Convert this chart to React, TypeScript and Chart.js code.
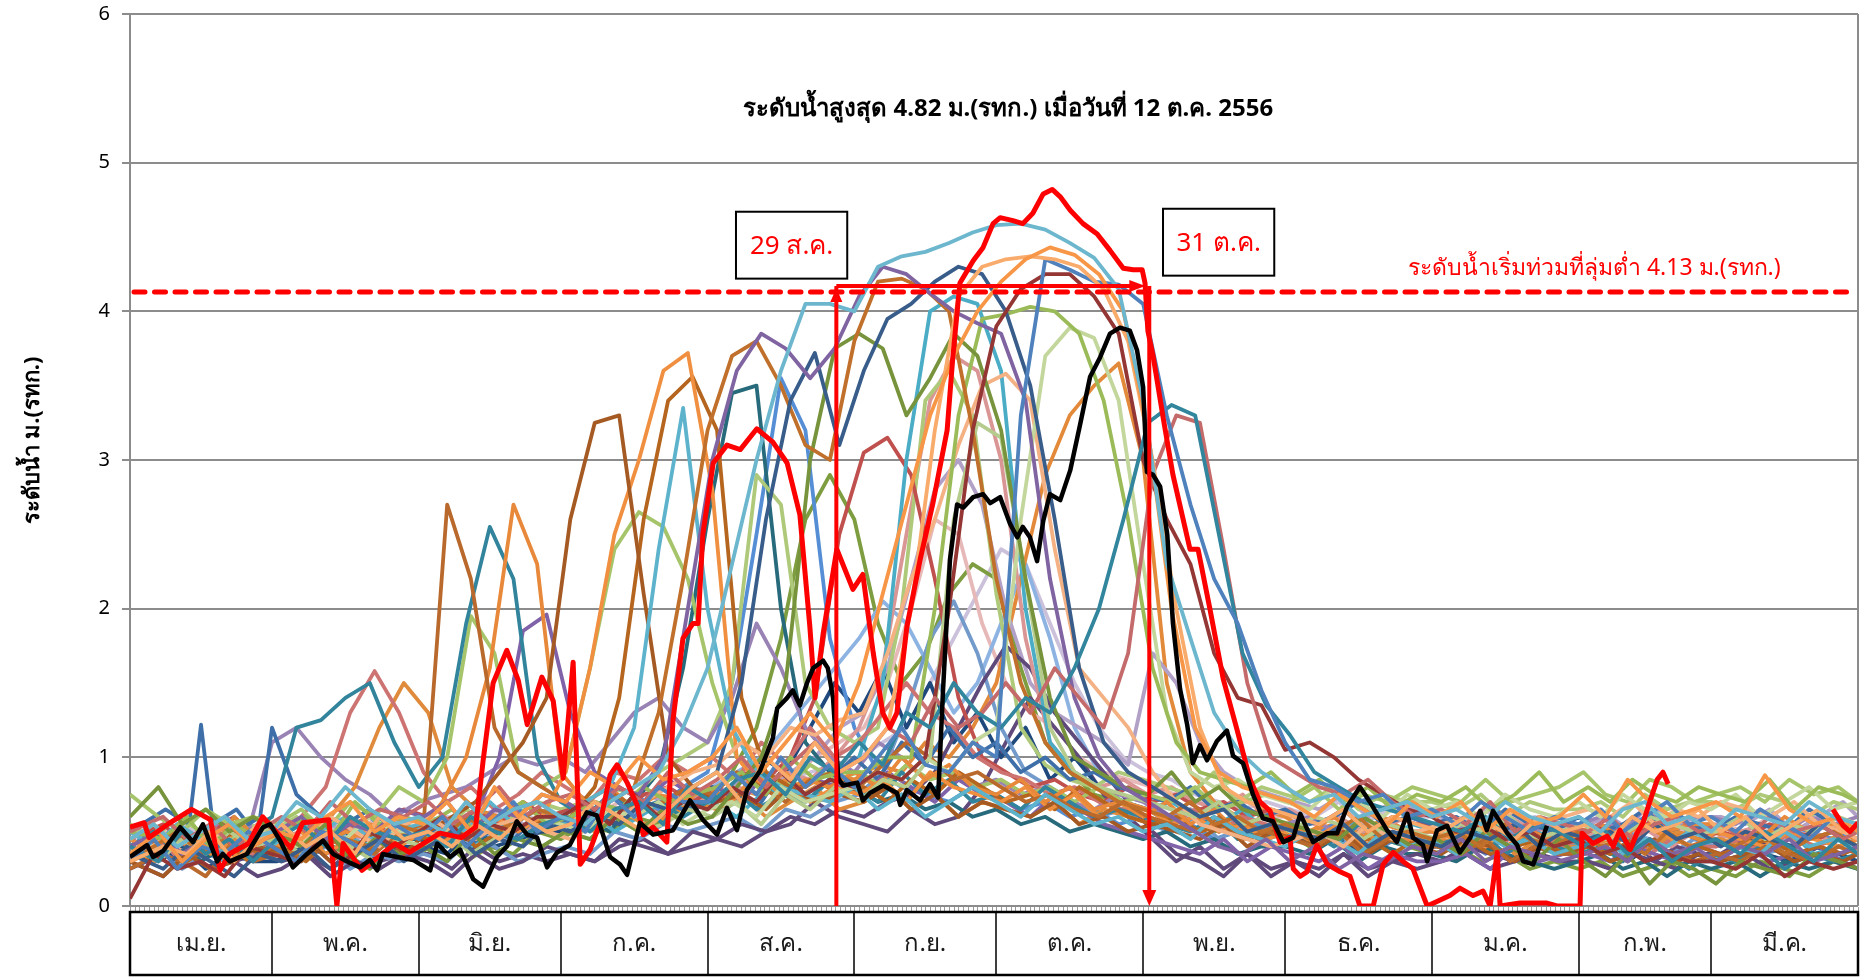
import React, { useEffect, useRef } from 'react';
import { Chart, registerables } from 'chart.js';

Chart.register(...registerables);

const FONT = "Tahoma, 'Noto Sans', 'DejaVu Sans', sans-serif";

// ---------- axis / category data ----------
const monthLabels = ['เม.ย.', 'พ.ค.', 'มิ.ย.', 'ก.ค.', 'ส.ค.', 'ก.ย.', 'ต.ค.', 'พ.ย.', 'ธ.ค.', 'ม.ค.', 'ก.พ.', 'มี.ค.'];
const monthStartDays = [0, 30, 61, 91, 122, 153, 183, 214, 244, 275, 306, 334, 365];
const yTicks = [0, 1, 2, 3, 4, 5, 6];

// ---------- annotation data ----------
const floodLevel = 4.13;
const titleText = 'ระดับน้ำสูงสุด 4.82 ม.(รทก.) เมื่อวันที่ 12 ต.ค. 2556';
const titlePos = [185.5, 5.36];
const floodText = 'ระดับน้ำเริ่มท่วมที่ลุ่มต่ำ 4.13 ม.(รทก.)';
const floodTextPos = [309.3, 4.29];
const yTitle = 'ระดับน้ำ ม.(รทก.)';
const startMarkerDay = 149.2;
const endMarkerDay = 215.3;
const markerLevel = 4.17;
const startLabel = '29 ส.ค.';
const startBox = [128, 151.5, 4.67, 4.22];
const endLabel = '31 ต.ค.';
const endBox = [218.2, 241.7, 4.69, 4.24];

// ---------- 2556 (red) : [day since 1 Apr, level] ----------
const red2556 = [
  [0, 0.53], [3, 0.56], [4, 0.46], [8, 0.55], [13, 0.65], [17, 0.58], [19, 0.24], [21, 0.35], [25, 0.42], [28, 0.6],
  [34, 0.39], [36.5, 0.56], [42, 0.58], [43.7, 0], [45, 0.42], [49, 0.24], [56, 0.42], [59, 0.36], [65.5, 0.49], [70, 0.46],
  [73, 0.53], [74.6, 0.98], [76.7, 1.5], [79.6, 1.72], [82, 1.52], [83.9, 1.22], [87, 1.54], [89.4, 1.38], [91.5, 0.86], [93.6, 1.64],
  [95.1, 0.28], [97.2, 0.38], [99.3, 0.56], [101.4, 0.88], [102.9, 0.95], [105, 0.83], [107.1, 0.68], [108.4, 0.48], [110.5, 0.53], [113.4, 0.43],
  [114.7, 1.25], [116.8, 1.8], [118.9, 1.9], [120, 1.9], [121, 2.5], [123.2, 2.98], [126.1, 3.1], [128.9, 3.07], [132.4, 3.21], [135.8, 3.12],
  [138.8, 2.98], [141.5, 2.63], [143.6, 1.88], [144.7, 1.4], [146.4, 1.83], [149.3, 2.4], [152.7, 2.13], [154.8, 2.23], [157, 1.7], [159, 1.3],
  [160.5, 1.2], [162, 1.3], [164.1, 1.88], [166.9, 2.33], [169.6, 2.71], [172.6, 3.2], [173.8, 3.69], [175.3, 4.19], [178.1, 4.34], [180.2, 4.43],
  [182.3, 4.59], [183.8, 4.63], [186.5, 4.61], [188.6, 4.59], [190.7, 4.66], [192.9, 4.79], [194.8, 4.82], [196.5, 4.77], [198.6, 4.68], [201.3, 4.59],
  [204.3, 4.52], [207, 4.41], [209.8, 4.29], [211.9, 4.28], [213.8, 4.28], [214.4, 4.19], [215, 3.87], [216.1, 3.7], [218.2, 3.29], [220.3, 2.9],
  [223.9, 2.4], [225.6, 2.4], [228.1, 2.0], [230.9, 1.53], [233.8, 1.19], [236.6, 0.85], [238.7, 0.7], [240.8, 0.64], [242.9, 0.43], [245, 0.46],
  [245.7, 0.25], [247.2, 0.2], [248.6, 0.23], [250.7, 0.41], [252.9, 0.28], [255.6, 0.23], [257.7, 0.2], [259.8, 0], [262.6, 0], [264.7, 0.28],
  [266.8, 0.36], [268.9, 0.3], [271, 0.25], [274, 0], [278.8, 0.07], [280.9, 0.12], [283.7, 0.07], [285.8, 0.1], [287.3, 0], [288.8, 0.36],
  [289.4, 0], [293.6, 0.02], [299.3, 0.02], [301.4, 0], [306.3, 0], [306.7, 0.49], [309, 0.42], [312, 0.47], [313.3, 0.4], [314.7, 0.51],
  [316.9, 0.38], [318.3, 0.49], [319.6, 0.56], [321.1, 0.71], [322.6, 0.85], [323.8, 0.9], [324.9, 0.82], [342, null], [359.7, 0.65], [361.9, 0.54],
  [363.3, 0.5], [365, 0.56],
];

// ---------- 2557 (black) ----------
const blackDays = [
  0, 3.6, 4.9, 7, 10.6, 13.3, 15.4, 18.4, 19.6, 21.1,
  24.7, 28.1, 29.6, 31.7, 34.4, 37.4, 40.8, 42.9, 46.5, 48.6,
  50.7, 52.2, 53.4, 56.4, 59.8, 63.4, 64.9, 67.6, 69.7, 72.5,
  74.6, 77.5, 79.6, 81.7, 83.9, 86, 88.1, 90.2, 92.9, 96.5,
  98.6, 101.4, 103.5, 105, 107.7, 110.5, 114.7, 118.3, 121, 124,
  126.1, 128.2, 130.3, 133.1, 135.8, 136.7, 138.8, 140, 141.5, 143,
  144.3, 146.4, 147.4, 148.5, 149.6, 150.6, 153.6, 154.8, 156.3, 159.1,
  162, 162.7, 164.1, 166.9, 169, 170.7, 171.7, 173.2, 174.7, 176,
  178.1, 180.2, 181.7, 183.8, 185.9, 187.4, 188.6, 190.1, 191.6, 192.9,
  194.3, 196.5, 198.6, 200.7, 202.8, 204.9, 207, 209.1, 211.2, 212.7,
  214, 214.8, 216.1, 217.6, 219.1, 220.3, 221.8, 223.3, 224.5, 226,
  227.5, 229.6, 231.7, 233, 235.1, 237.2, 239.3, 241.4, 243.6, 245.7,
  247.2, 249.9, 252.9, 255, 257.1, 259.8, 261.9, 265.5, 267.6, 269.8,
  271, 273.1, 274, 276.1, 278.2, 280.9, 283.1, 285.2, 286.6, 287.9,
  290.9, 293, 294.3, 296.4, 299.3,
];
const blackVals = [
  0.33, 0.41, 0.33, 0.37, 0.53, 0.43, 0.55, 0.30, 0.35, 0.30,
  0.35, 0.53, 0.55, 0.44, 0.26, 0.35, 0.44, 0.35, 0.29, 0.26,
  0.31, 0.24, 0.35, 0.33, 0.31, 0.24, 0.42, 0.33, 0.38, 0.18,
  0.13, 0.33, 0.40, 0.57, 0.48, 0.46, 0.26, 0.36, 0.41, 0.63,
  0.61, 0.33, 0.28, 0.21, 0.56, 0.48, 0.51, 0.71, 0.58, 0.48,
  0.66, 0.51, 0.78, 0.91, 1.13, 1.33, 1.40, 1.45, 1.35, 1.50,
  1.60, 1.65, 1.60, 1.40, 0.86, 0.81, 0.83, 0.71, 0.76, 0.81,
  0.76, 0.68, 0.78, 0.71, 0.82, 0.73, 1.43, 2.33, 2.70, 2.68,
  2.75, 2.77, 2.71, 2.75, 2.57, 2.48, 2.55, 2.48, 2.32, 2.59,
  2.77, 2.73, 2.93, 3.24, 3.56, 3.69, 3.85, 3.89, 3.87, 3.74,
  3.49, 2.92, 2.90, 2.82, 2.50, 1.90, 1.46, 1.22, 0.96, 1.08,
  0.98, 1.11, 1.18, 1.01, 0.96, 0.75, 0.59, 0.57, 0.43, 0.46,
  0.62, 0.43, 0.49, 0.49, 0.67, 0.80, 0.70, 0.51, 0.43, 0.62,
  0.46, 0.41, 0.30, 0.51, 0.54, 0.36, 0.46, 0.64, 0.51, 0.64,
  0.49, 0.41, 0.30, 0.28, 0.54,
];

// ---------- earlier years: readings grouped by month (Apr .. Mar) ----------
const hist01 = [[0.45,0.55,0.4,0.5,0.6,0.45],[0.5,0.7,0.6,0.8,0.65,0.55],[0.6,0.5,0.7,0.55,0.65,0.7],[0.6,0.55,0.7,0.8,0.9,1.2],[1.6,2.3,3.0,3.6,4.05,4.05],[4.0,4.3,4.37,4.4,4.46,4.53],[4.58,4.59,4.55,4.46,4.36,4.15],[3.4,2.3,1.8,1.3,1.05,0.9],[0.8,0.7,0.75,0.6,0.65,0.7],[0.6,0.65,0.55,0.7,0.6,0.55],[0.6,0.5,0.65,0.7,0.55,0.6],[0.5,0.65,0.6,0.55,0.7,0.6,0.55]];
const hist02 = [[0.35,0.5,0.3,0.45,0.55,0.4],[0.5,0.45,0.6,0.7,0.5,0.6],[0.55,0.7,0.5,0.8,0.6,0.75],[0.7,0.9,0.8,1.0,0.85,0.9],[1.0,1.2,0.9,1.1,1.3,1.1],[1.5,2.1,2.7,3.3,3.7,4.0],[4.2,4.35,4.43,4.38,4.25,4.0],[3.2,2.0,1.2,0.9,0.8,0.75],[0.7,0.6,0.75,0.65,0.55,0.7],[0.6,0.7,0.5,0.65,0.55,0.6],[0.75,0.6,0.85,0.7,0.6,0.65],[0.7,0.6,0.88,0.65,0.55,0.6,0.5]];
const hist03 = [[0.3,0.4,0.35,0.5,0.3,0.45],[0.55,0.4,0.5,0.35,0.6,0.45],[0.5,0.4,0.55,0.45,0.6,0.5],[0.55,0.7,0.6,0.5,0.65,0.8],[0.9,0.7,1.0,0.85,1.1,0.9],[1.0,1.2,2.0,3.2,4.1,4.3],[4.35,4.37,4.35,4.3,4.15,3.8],[3.0,2.0,1.2,0.8,0.7,0.65],[0.6,0.55,0.65,0.5,0.6,0.55],[0.5,0.6,0.55,0.45,0.6,0.5],[0.55,0.45,0.6,0.5,0.55,0.65],[0.5,0.6,0.45,0.55,0.65,0.5,0.55]];
const hist04 = [[0.3,0.45,0.25,0.4,0.35,0.5],[0.4,0.3,0.5,0.45,0.35,0.55],[0.45,0.6,0.4,0.55,0.7,0.5],[0.6,0.5,0.75,0.6,0.8,0.7],[0.7,0.9,0.75,1.0,0.8,0.95],[0.8,1.0,1.2,0.95,0.9,1.1],[1.0,3.3,4.35,4.28,4.2,4.18],[4.05,3.3,2.7,2.2,1.9,1.45],[1.1,0.85,0.8,0.7,0.75,0.6],[0.65,0.55,0.7,0.6,0.5,0.6],[0.55,0.65,0.5,0.6,0.7,0.55],[0.6,0.5,0.65,0.55,0.45,0.6,0.5]];
const hist05 = [[0.4,0.3,0.5,0.35,0.45,0.3],[0.45,0.55,0.4,0.6,0.5,0.45],[0.5,0.4,0.6,0.5,0.45,0.55],[0.6,0.5,0.65,0.7,0.55,0.8],[0.7,0.85,0.9,0.75,1.0,0.9],[1.1,0.95,1.3,1.2,1.5,1.3],[1.2,1.4,1.3,1.6,2.0,2.6],[3.25,3.37,3.3,2.5,1.7,1.35],[1.15,0.9,0.8,0.7,0.65,0.6],[0.55,0.5,0.6,0.45,0.55,0.5],[0.4,0.5,0.35,0.45,0.3,0.4],[0.45,0.35,0.5,0.4,0.3,0.45,0.35]];
const hist06 = [[0.5,0.6,0.45,0.55,0.4,0.5],[0.6,0.5,0.7,0.55,0.65,0.6],[0.7,0.55,0.65,0.8,0.6,0.7],[0.75,0.65,0.8,0.7,0.9,0.75],[0.85,1.0,0.8,0.95,1.1,0.9],[1.0,1.2,1.1,1.4,1.2,1.3],[1.5,1.3,1.6,1.4,1.2,1.7],[2.9,3.3,3.25,2.4,1.5,1.0],[0.9,0.8,0.75,0.85,0.7,0.6],[0.65,0.55,0.7,0.5,0.6,0.55],[0.5,0.6,0.45,0.55,0.6,0.5],[0.55,0.45,0.6,0.5,0.55,0.45,0.5]];
const hist07 = [[0.05,0.35,0.25,0.3,0.2,0.4],[0.35,0.3,0.45,0.3,0.5,0.4],[0.5,0.6,0.45,0.55,0.5,0.6],[0.6,0.7,0.55,0.75,0.6,0.7],[0.65,0.8,0.7,0.9,0.75,0.85],[0.8,0.9,0.85,1.0,2.0,3.2],[3.9,4.15,4.25,4.25,4.1,3.85],[3.0,2.6,2.3,1.7,1.4,1.35],[1.05,1.1,1.0,0.85,0.75,0.65],[0.6,0.5,0.55,0.45,0.5,0.4],[0.45,0.35,0.4,0.3,0.35,0.3],[0.3,0.25,0.35,0.2,0.3,0.25,0.3]];
const hist08 = [[0.4,0.5,0.35,0.45,0.55,0.4],[0.5,0.6,0.45,0.55,0.5,0.65],[0.6,0.7,0.5,0.65,0.6,0.75],[0.7,0.6,0.8,0.75,1.0,2.0],[3.0,3.6,3.85,3.75,3.55,3.75],[4.1,4.3,4.25,4.12,4.0,3.92],[3.85,3.4,2.2,1.4,1.0,0.8],[0.7,0.6,0.5,0.4,0.35,0.45],[0.3,0.4,0.25,0.35,0.3,0.4],[0.35,0.45,0.3,0.4,0.35,0.3],[0.35,0.4,0.3,0.45,0.35,0.4],[0.3,0.4,0.35,0.45,0.3,0.35,0.4]];
const hist09 = [[0.35,0.25,0.4,0.3,0.2,0.35],[0.3,0.4,0.25,0.35,0.45,0.3],[0.4,0.5,0.35,0.45,0.4,0.55],[0.5,0.6,0.55,0.7,0.65,0.8],[0.9,1.5,2.6,3.4,3.72,3.1],[3.6,3.95,4.05,4.2,4.3,4.25],[4.0,3.5,2.6,1.6,1.1,0.9],[0.8,0.7,0.6,0.65,0.5,0.55],[0.5,0.45,0.55,0.4,0.5,0.45],[0.4,0.5,0.45,0.55,0.4,0.5],[0.45,0.5,0.4,0.55,0.45,0.5],[0.4,0.5,0.45,0.4,0.55,0.45,0.4]];
const hist10 = [[0.3,0.4,0.5,0.35,0.45,0.3],[0.4,0.35,0.5,0.45,0.4,0.55],[0.5,0.45,0.6,0.5,0.55,0.65],[0.6,0.55,0.7,0.8,1.3,2.2],[3.2,3.7,3.8,3.5,3.1,3.0],[3.8,4.2,4.22,4.15,4.0,3.2],[2.2,1.5,1.1,0.9,0.8,0.7],[0.65,0.6,0.7,0.55,0.6,0.5],[0.55,0.45,0.5,0.6,0.45,0.5],[0.45,0.5,0.4,0.55,0.45,0.4],[0.5,0.4,0.45,0.35,0.5,0.4],[0.45,0.4,0.5,0.35,0.45,0.5,0.4]];
const hist11 = [[0.6,0.8,0.55,0.65,0.5,0.6],[0.5,0.4,0.55,0.3,0.45,0.35],[0.4,0.3,0.5,0.35,0.45,0.4],[0.5,0.45,0.6,0.5,0.65,0.55],[0.6,0.8,1.0,1.5,3.0,3.75],[3.85,3.75,3.3,3.55,3.85,3.7],[3.2,2.2,1.4,1.0,0.9,0.8],[0.75,0.9,0.7,0.8,0.65,0.6],[0.55,0.5,0.45,0.6,0.5,0.4],[0.45,0.35,0.5,0.4,0.3,0.45],[0.3,0.2,0.35,0.15,0.3,0.25],[0.15,0.3,0.25,0.2,0.35,0.3,0.25]];
const hist12 = [[0.5,0.45,0.6,0.4,0.55,0.45],[0.5,0.6,0.45,0.7,0.55,0.6],[0.55,0.65,0.5,0.6,0.7,0.55],[0.6,0.7,0.65,0.8,0.7,0.75],[0.8,0.9,0.75,1.0,0.85,0.9],[0.9,1.0,1.0,2.0,3.3,3.95],[3.98,4.03,4.0,3.85,3.4,2.6],[1.6,1.1,0.9,0.85,0.8,0.9],[0.75,0.85,0.7,0.8,0.65,0.75],[0.7,0.8,0.65,0.75,0.9,0.7],[0.8,0.7,0.85,0.75,0.7,0.8],[0.75,0.7,0.85,0.65,0.8,0.75,0.7]];
const hist13 = [[0.45,0.55,0.4,0.5,0.6,0.45],[0.55,0.4,0.5,0.45,0.6,0.5],[0.5,0.6,0.45,0.55,0.5,0.6],[0.55,0.5,0.65,0.6,0.7,0.55],[0.65,0.7,0.6,0.8,0.7,0.75],[0.8,0.9,0.85,1.0,0.9,1.1],[1.2,2.6,3.7,3.89,3.82,3.4],[2.3,1.3,0.9,0.8,0.85,0.75],[0.7,0.65,0.8,0.7,0.6,0.75],[0.65,0.7,0.6,0.75,0.65,0.6],[0.7,0.6,0.75,0.65,0.6,0.7],[0.65,0.75,0.6,0.7,0.8,0.65,0.7]];
const hist14 = [[0.4,0.3,0.45,0.35,0.5,0.4],[0.45,0.35,0.5,0.4,0.3,0.45],[0.4,0.5,0.35,0.45,0.55,0.4],[0.5,0.45,0.6,0.5,0.55,0.65],[0.6,0.7,0.55,0.75,0.65,0.8],[0.7,0.85,0.8,1.0,2.6,3.25],[3.15,2.2,1.2,0.9,0.8,0.75],[0.7,0.65,0.6,0.7,0.55,0.6],[0.5,0.6,0.55,0.45,0.55,0.5],[0.45,0.55,0.5,0.6,0.45,0.5],[0.55,0.45,0.5,0.6,0.55,0.5],[0.5,0.6,0.45,0.55,0.5,0.6,0.55]];
const hist15 = [[0.3,0.45,0.35,0.5,0.4,0.55],[0.5,0.45,0.6,0.5,0.4,0.55],[0.6,0.5,0.45,0.55,0.6,0.5],[0.45,0.55,0.6,0.7,0.8,0.9],[0.95,1.1,1.0,1.2,1.15,1.25],[1.3,1.7,2.2,2.6,3.1,3.5],[3.58,3.4,2.4,1.6,1.4,1.2],[0.9,0.7,0.55,0.5,0.45,0.4],[0.45,0.5,0.4,0.55,0.45,0.5],[0.55,0.6,0.5,0.65,0.55,0.6],[0.65,0.6,0.7,0.55,0.65,0.6],[0.7,0.65,0.6,0.7,0.55,0.5,0.45]];
const hist16 = [[0.5,0.4,0.55,0.45,0.35,0.5],[0.4,0.55,0.5,0.6,0.45,0.5],[0.55,0.6,0.5,0.7,0.55,0.65],[0.6,0.7,0.8,1.2,2.4,3.35],[2.0,1.2,0.9,0.8,0.75,0.7],[0.8,0.65,0.75,0.6,0.7,0.8],[0.7,0.6,0.75,0.65,0.55,0.6],[0.5,0.55,0.45,0.6,0.5,0.45],[0.4,0.5,0.45,0.35,0.5,0.4],[0.45,0.35,0.5,0.4,0.45,0.35],[0.4,0.5,0.35,0.45,0.4,0.5],[0.45,0.4,0.35,0.5,0.4,0.45,0.4]];
const hist17 = [[0.25,0.35,0.3,0.2,0.4,0.3],[0.35,0.3,0.45,0.4,0.35,0.5],[0.55,2.7,2.2,1.2,0.9,0.8],[0.7,0.6,0.75,0.65,0.7,0.8],[0.75,0.9,0.8,0.7,0.85,0.9],[0.8,0.95,1.1,1.0,0.85,0.9],[0.8,0.7,0.75,0.65,0.6,0.7],[0.6,0.55,0.5,0.6,0.45,0.5],[0.45,0.4,0.5,0.35,0.45,0.4],[0.4,0.35,0.45,0.3,0.4,0.35],[0.35,0.4,0.3,0.45,0.35,0.3],[0.35,0.3,0.4,0.35,0.3,0.4,0.35]];
const hist18 = [[0.3,0.2,0.35,0.25,0.3,0.4],[0.35,0.45,0.3,0.4,0.5,0.35],[0.5,0.6,0.7,0.9,1.1,1.4],[2.6,3.25,3.3,2.1,1.0,0.8],[0.7,0.75,0.65,0.8,0.7,0.75],[0.7,0.8,0.65,0.75,0.6,0.7],[0.65,0.6,0.7,0.55,0.6,0.5],[0.55,0.5,0.45,0.55,0.4,0.5],[0.45,0.4,0.5,0.35,0.45,0.4],[0.35,0.45,0.4,0.3,0.4,0.35],[0.4,0.3,0.35,0.45,0.3,0.35],[0.3,0.35,0.4,0.3,0.35,0.3,0.35]];
const hist19 = [[0.4,0.3,0.45,0.35,0.4,0.5],[0.45,0.55,0.4,0.5,0.45,0.6],[0.5,0.7,1.0,1.6,2.7,2.3],[0.9,0.7,0.8,0.65,0.75,0.7],[0.8,0.7,0.9,0.75,0.85,0.8],[0.9,0.8,1.0,0.85,0.95,0.8],[0.75,0.85,0.7,0.8,0.65,0.7],[0.6,0.7,0.55,0.65,0.5,0.6],[0.55,0.5,0.6,0.45,0.55,0.5],[0.5,0.45,0.55,0.4,0.5,0.45],[0.5,0.55,0.45,0.6,0.5,0.55],[0.55,0.5,0.45,0.6,0.5,0.55,0.5]];
const hist20 = [[0.45,0.35,0.5,0.4,0.3,0.45],[0.4,0.5,0.35,0.45,0.55,0.4],[0.5,0.45,0.55,0.6,0.5,0.6],[0.9,1.6,2.5,3.0,3.6,3.72],[2.8,1.0,0.8,0.9,0.7,0.8],[0.75,0.85,0.7,0.9,0.8,0.75],[0.7,0.8,0.65,0.75,0.6,0.7],[0.65,0.55,0.6,0.5,0.55,0.45],[0.5,0.45,0.55,0.4,0.5,0.45],[0.45,0.5,0.4,0.55,0.45,0.5],[0.45,0.4,0.5,0.55,0.45,0.4],[0.5,0.45,0.4,0.5,0.45,0.4,0.45]];
const hist21 = [[0.35,0.45,0.3,0.4,0.5,0.35],[0.4,0.3,0.45,0.35,0.4,0.5],[0.45,0.55,0.4,0.5,0.6,0.55],[0.6,0.8,1.4,2.6,3.4,3.56],[3.2,1.4,0.9,0.8,0.85,0.75],[0.8,0.7,0.85,0.75,0.9,0.8],[0.7,0.75,0.65,0.8,0.7,0.6],[0.55,0.6,0.5,0.55,0.45,0.5],[0.45,0.5,0.4,0.45,0.35,0.45],[0.4,0.45,0.35,0.4,0.45,0.35],[0.4,0.35,0.45,0.4,0.35,0.4],[0.35,0.4,0.45,0.35,0.4,0.35,0.4]];
const hist22 = [[0.4,0.5,0.35,0.45,0.4,0.5],[0.6,1.2,1.25,1.4,1.5,1.1],[0.8,1.0,1.9,2.55,2.2,1.0],[0.7,0.6,0.75,0.65,0.7,0.6],[0.7,0.8,0.65,0.75,0.7,0.85],[0.8,0.7,0.9,0.75,0.85,0.7],[0.75,0.65,0.8,0.7,0.6,0.65],[0.6,0.55,0.5,0.6,0.45,0.5],[0.45,0.5,0.4,0.55,0.45,0.4],[0.4,0.45,0.5,0.35,0.45,0.4],[0.35,0.4,0.3,0.45,0.35,0.25],[0.35,0.3,0.4,0.25,0.35,0.3,0.35]];
const hist23 = [[0.75,0.6,0.5,0.65,0.55,0.6],[0.55,0.65,0.5,0.7,0.6,0.8],[0.7,1.0,1.95,1.7,0.9,0.8],[0.9,1.6,2.4,2.65,2.55,2.2],[1.5,1.0,0.9,0.8,0.95,0.85],[0.9,0.8,0.95,0.85,0.9,0.8],[0.85,0.75,0.8,0.7,0.8,0.7],[0.75,0.7,0.8,0.65,0.7,0.75],[0.7,0.8,0.65,0.75,0.7,0.8],[0.75,0.7,0.85,0.7,0.75,0.8],[0.9,0.75,0.7,0.85,0.8,0.7],[0.75,0.8,0.7,0.85,0.75,0.8,0.7]];
const hist24 = [[0.45,0.35,0.5,0.4,0.3,0.45],[0.35,0.45,0.3,0.4,0.5,0.35],[0.4,0.5,0.6,1.0,1.85,1.96],[1.3,0.9,0.8,0.7,0.85,0.75],[0.8,0.7,0.9,0.75,0.85,0.8],[0.75,0.9,0.8,0.7,0.85,0.75],[0.7,0.6,0.75,0.65,0.55,0.5],[0.45,0.4,0.35,0.45,0.3,0.4],[0.35,0.3,0.4,0.25,0.35,0.3],[0.3,0.35,0.25,0.4,0.3,0.35],[0.35,0.3,0.4,0.35,0.3,0.4],[0.35,0.4,0.3,0.35,0.4,0.3,0.35]];
const hist25 = [[0.5,0.55,0.6,0.65,0.6,0.55,1.22,0.55,0.6,0.65,0.55,0.6],[1.2,0.75,0.6,0.55,0.65,0.5],[0.45,0.55,0.4,0.5,0.45,0.6],[0.55,0.5,0.65,0.6,0.7,0.65],[0.7,0.8,0.65,0.9,0.75,0.85],[1.0,0.85,1.1,0.95,1.2,1.0],[1.1,0.9,1.0,0.85,0.9,0.8],[0.75,0.7,0.8,0.65,0.7,0.6],[0.65,0.55,0.6,0.7,0.55,0.6],[0.55,0.6,0.5,0.65,0.55,0.5],[0.6,0.5,0.55,0.65,0.5,0.55],[0.5,0.6,0.55,0.5,0.65,0.55,0.5]];
const hist26 = [[0.35,0.45,0.3,0.5,0.4,0.35],[0.45,0.6,0.8,1.3,1.58,1.3],[0.9,0.7,0.8,0.65,0.75,0.9],[0.8,0.7,0.9,0.85,1.0,0.9],[1.0,0.85,1.1,0.95,1.2,1.0],[1.1,1.3,1.5,1.3,1.2,1.0],[0.9,0.85,0.75,0.8,0.7,0.65],[0.6,0.55,0.65,0.5,0.6,0.55],[0.5,0.45,0.55,0.4,0.5,0.45],[0.45,0.5,0.4,0.45,0.5,0.4],[0.45,0.4,0.5,0.35,0.45,0.4],[0.4,0.45,0.35,0.5,0.4,0.45,0.4]];
const hist27 = [[0.3,0.4,0.5,0.35,0.6,0.45],[0.5,0.45,0.6,0.8,1.2,1.5],[1.3,0.8,0.65,0.6,0.7,0.55],[0.6,0.5,0.65,0.55,0.6,0.7],[0.65,0.75,0.6,0.7,0.8,0.65],[0.7,0.8,0.65,0.75,0.6,0.7],[0.65,0.6,0.7,0.55,0.65,0.6],[0.55,0.6,0.5,0.55,0.45,0.5],[0.5,0.4,0.55,0.45,0.5,0.4],[0.45,0.4,0.5,0.35,0.45,0.4],[0.4,0.45,0.35,0.4,0.5,0.45],[0.45,0.4,0.5,0.45,0.4,0.5,0.45]];
const hist28 = [[0.5,0.4,0.55,0.45,0.6,0.5],[1.1,1.2,1.0,0.85,0.75,0.6],[0.7,0.75,0.8,0.9,1.0,0.95],[1.0,0.9,1.1,1.3,1.4,1.2],[1.1,1.4,1.9,1.6,1.2,1.0],[0.9,1.1,1.0,0.85,0.9,0.8],[0.85,0.75,0.8,0.7,0.65,0.75],[0.7,0.6,0.65,0.55,0.6,0.5],[0.55,0.6,0.5,0.55,0.45,0.5],[0.5,0.55,0.45,0.6,0.5,0.55],[0.55,0.6,0.5,0.65,0.55,0.6],[0.6,0.55,0.65,0.5,0.6,0.55,0.6]];
const hist29 = [[0.35,0.45,0.3,0.4,0.35,0.5],[0.4,0.35,0.5,0.45,0.4,0.55],[0.5,0.45,0.4,0.55,0.5,0.6],[0.55,0.65,0.5,0.6,0.7,0.65],[0.7,0.6,0.75,0.8,0.7,0.9],[1.0,1.5,3.0,4.0,4.1,4.05],[3.6,2.0,1.1,0.9,0.8,0.7],[0.65,0.7,0.6,0.55,0.65,0.5],[0.55,0.45,0.5,0.6,0.45,0.55],[0.5,0.45,0.55,0.4,0.5,0.45],[0.4,0.5,0.45,0.35,0.45,0.4],[0.45,0.35,0.4,0.5,0.35,0.4,0.45]];
const hist30 = [[0.45,0.55,0.4,0.5,0.6,0.45],[0.5,0.6,0.45,0.55,0.5,0.65],[0.6,0.5,0.65,0.55,0.7,0.6],[0.65,0.7,0.6,0.75,0.8,0.7],[0.8,0.9,0.85,1.0,1.4,2.5],[3.05,3.15,2.9,2.2,1.4,1.0],[0.9,0.8,0.85,0.75,0.7,0.8],[0.7,0.75,0.65,0.7,0.6,0.65],[0.6,0.55,0.65,0.5,0.6,0.55],[0.55,0.5,0.6,0.45,0.55,0.5],[0.5,0.55,0.45,0.6,0.5,0.45],[0.5,0.45,0.55,0.5,0.45,0.55,0.5]];
const hist31 = [[0.55,0.45,0.6,0.5,0.4,0.55],[0.5,0.6,0.45,0.55,0.65,0.5],[0.6,0.5,0.65,0.55,0.6,0.7],[0.65,0.7,0.8,0.75,0.9,1.0],[1.1,1.5,2.9,2.7,1.5,1.2],[1.1,1.2,2.0,3.4,3.6,3.3],[2.1,1.2,0.95,0.85,0.8,0.9],[0.85,0.8,0.75,0.9,0.7,0.8],[0.75,0.7,0.8,0.65,0.75,0.7],[0.7,0.65,0.75,0.6,0.7,0.65],[0.65,0.7,0.6,0.75,0.65,0.7],[0.7,0.65,0.75,0.7,0.6,0.7,0.65]];
const hist32 = [[0.4,0.3,0.45,0.35,0.5,0.4],[0.45,0.5,0.4,0.55,0.45,0.5],[0.55,0.45,0.5,0.6,0.5,0.55],[0.6,0.55,0.65,0.7,0.6,0.75],[0.7,0.8,0.75,0.9,0.85,1.0],[1.2,1.6,2.5,3.4,3.7,3.6],[3.0,1.8,1.1,0.9,0.8,0.85],[0.75,0.8,0.7,0.65,0.75,0.6],[0.65,0.55,0.6,0.5,0.55,0.6],[0.5,0.55,0.45,0.6,0.5,0.55],[0.5,0.45,0.55,0.5,0.4,0.5],[0.45,0.5,0.55,0.45,0.5,0.4,0.45]];
const hist33 = [[0.3,0.2,0.35,0.25,0.3,0.2],[0.25,0.35,0.2,0.3,0.25,0.35],[0.3,0.2,0.35,0.25,0.3,0.4],[0.35,0.3,0.45,0.4,0.35,0.5],[0.45,0.55,0.5,0.6,0.55,0.65],[0.6,0.7,0.75,0.9,1.2,1.5],[1.75,1.6,1.3,1.1,0.9,0.7],[0.5,0.35,0.3,0.2,0.35,0.25],[0.3,0.2,0.35,0.25,0.3,0.35],[0.3,0.4,0.35,0.3,0.4,0.35],[0.4,0.35,0.45,0.3,0.4,0.35],[0.35,0.45,0.4,0.3,0.4,0.35,0.4]];
const hist34 = [[0.4,0.35,0.45,0.3,0.4,0.35],[0.35,0.45,0.4,0.5,0.35,0.45],[0.45,0.4,0.5,0.45,0.55,0.5],[0.55,0.6,0.5,0.7,0.9,1.6],[2.6,3.45,3.5,2.0,1.1,0.9],[0.8,0.7,0.75,0.65,0.7,0.6],[0.65,0.55,0.6,0.5,0.55,0.5],[0.45,0.5,0.4,0.45,0.35,0.4],[0.4,0.35,0.45,0.3,0.4,0.35],[0.35,0.3,0.4,0.35,0.3,0.25],[0.3,0.35,0.25,0.3,0.2,0.3],[0.25,0.3,0.2,0.3,0.25,0.3,0.25]];
const hist35 = [[0.3,0.4,0.25,0.35,0.3,0.45],[0.35,0.3,0.4,0.25,0.35,0.3],[0.35,0.3,0.45,0.4,0.3,0.35],[0.4,0.35,0.5,0.45,0.55,0.5],[0.55,0.6,0.5,0.65,0.6,0.7],[0.75,0.9,1.3,1.8,2.05,1.7],[1.2,0.9,0.8,0.7,0.6,0.65],[0.55,0.5,0.6,0.45,0.55,0.5],[0.45,0.5,0.4,0.5,0.45,0.4],[0.4,0.45,0.35,0.5,0.4,0.45],[0.45,0.4,0.5,0.4,0.35,0.45],[0.4,0.45,0.35,0.4,0.5,0.4,0.45]];
const hist36 = [[0.45,0.35,0.5,0.4,0.45,0.55],[0.5,0.4,0.55,0.45,0.5,0.6],[0.55,0.5,0.6,0.65,0.55,0.6],[0.6,0.7,0.65,0.75,0.7,0.8],[0.75,0.85,0.8,0.9,1.0,1.2],[1.3,1.6,2.2,2.8,3.0,2.7],[2.0,1.5,1.3,1.2,1.1,0.95],[1.7,1.5,1.1,0.9,0.8,0.75],[0.7,0.65,0.75,0.6,0.7,0.65],[0.6,0.55,0.65,0.5,0.6,0.55],[0.55,0.6,0.5,0.65,0.55,0.6],[0.6,0.55,0.65,0.5,0.6,0.7,0.6]];
const hist37 = [[0.4,0.5,0.35,0.45,0.55,0.4],[0.45,0.55,0.4,0.5,0.6,0.45],[0.55,0.45,0.6,0.5,0.55,0.65],[0.6,0.7,0.55,0.75,0.65,0.8],[0.9,1.5,2.5,3.55,3.2,1.8],[1.2,0.9,0.8,0.75,0.7,0.8],[0.75,0.65,0.7,0.6,0.65,0.55],[0.6,0.5,0.55,0.45,0.5,0.55],[0.5,0.45,0.55,0.5,0.4,0.5],[0.45,0.5,0.4,0.55,0.45,0.5],[0.5,0.45,0.55,0.5,0.6,0.5],[0.55,0.5,0.45,0.55,0.5,0.45,0.5]];
const hist38 = [[0.35,0.3,0.4,0.25,0.35,0.3],[0.3,0.4,0.35,0.45,0.3,0.4],[0.4,0.35,0.5,0.4,0.45,0.5],[0.5,0.6,0.55,0.7,0.6,0.75],[0.8,0.7,1.0,0.9,1.2,1.5],[1.3,1.6,1.2,1.5,1.1,1.3],[1.0,1.2,0.85,1.0,0.8,0.7],[0.65,0.55,0.6,0.5,0.55,0.45],[0.5,0.4,0.45,0.35,0.45,0.4],[0.4,0.35,0.45,0.3,0.4,0.35],[0.35,0.4,0.3,0.4,0.35,0.3],[0.3,0.4,0.35,0.3,0.4,0.35,0.3]];
const hist39 = [[0.25,0.35,0.3,0.4,0.3,0.35],[0.3,0.35,0.25,0.4,0.3,0.35],[0.35,0.25,0.4,0.3,0.35,0.3],[0.35,0.3,0.4,0.45,0.35,0.4],[0.45,0.4,0.5,0.55,0.7,0.6],[0.55,0.5,0.65,0.55,0.6,0.8],[1.1,1.4,1.2,1.0,0.75,0.6],[0.45,0.3,0.4,0.25,0.35,0.2],[0.3,0.25,0.35,0.2,0.3,0.25],[0.3,0.35,0.25,0.3,0.35,0.3],[0.3,0.25,0.35,0.3,0.25,0.35],[0.3,0.35,0.25,0.3,0.35,0.3,0.25]];
const hist40 = [[0.4,0.5,0.45,0.35,0.5,0.4],[0.45,0.55,0.5,0.4,0.55,0.5],[0.5,0.6,0.45,0.55,0.5,0.6],[0.55,0.65,0.6,0.7,0.65,0.75],[0.7,0.8,0.75,0.85,0.8,0.9],[0.85,0.95,0.9,1.1,1.0,1.2],[1.5,2.2,2.9,3.3,3.5,3.65],[3.0,1.5,0.9,0.7,0.6,0.65],[0.6,0.5,0.55,0.45,0.6,0.5],[0.5,0.45,0.55,0.5,0.4,0.5],[0.45,0.5,0.4,0.55,0.45,0.5],[0.5,0.45,0.4,0.5,0.45,0.5,0.45]];
const hist41 = [[0.35,0.45,0.3,0.5,0.4,0.35],[0.4,0.5,0.35,0.45,0.55,0.4],[0.5,0.4,0.55,0.45,0.5,0.6],[0.55,0.65,0.6,0.7,0.6,0.75],[0.8,0.9,1.0,1.2,1.4,1.6],[1.8,2.05,1.9,1.6,1.3,1.5],[1.9,2.3,1.8,1.2,0.9,0.8],[0.7,0.65,0.6,0.55,0.6,0.5],[0.55,0.45,0.5,0.4,0.5,0.45],[0.45,0.5,0.4,0.5,0.45,0.4],[0.45,0.4,0.5,0.45,0.4,0.5],[0.45,0.5,0.4,0.45,0.5,0.4,0.45]];
const hist42 = [[0.4,0.5,0.45,0.55,0.4,0.5],[0.5,0.45,0.55,0.5,0.6,0.5],[0.55,0.6,0.5,0.65,0.55,0.6],[0.65,0.6,0.7,0.65,0.75,0.7],[0.8,0.75,0.9,0.85,1.0,1.1],[1.2,1.5,2.0,2.6,2.5,1.9],[1.5,1.3,1.2,1.0,0.9,0.85],[0.8,0.75,0.7,0.65,0.7,0.6],[0.6,0.55,0.65,0.5,0.6,0.55],[0.55,0.5,0.6,0.45,0.55,0.5],[0.5,0.55,0.45,0.6,0.5,0.55],[0.55,0.5,0.6,0.5,0.55,0.5,0.55]];
const hist43 = [[0.45,0.35,0.5,0.4,0.3,0.45],[0.4,0.3,0.45,0.35,0.25,0.4],[0.35,0.45,0.3,0.4,0.35,0.5],[0.45,0.55,0.5,0.6,0.55,0.7],[0.75,0.9,1.2,1.8,2.6,2.9],[2.6,1.9,1.5,1.7,2.1,2.3],[2.2,1.6,1.1,0.9,0.75,0.7],[0.6,0.55,0.65,0.5,0.55,0.45],[0.5,0.4,0.45,0.35,0.45,0.4],[0.35,0.4,0.3,0.35,0.25,0.3],[0.25,0.3,0.2,0.25,0.3,0.2],[0.25,0.2,0.3,0.25,0.2,0.3,0.25]];
const hist44 = [[0.5,0.4,0.55,0.45,0.5,0.4],[0.45,0.55,0.5,0.6,0.45,0.55],[0.5,0.6,0.55,0.5,0.65,0.55],[0.6,0.55,0.65,0.7,0.6,0.7],[0.7,0.8,0.75,0.85,0.9,0.95],[1.0,1.1,1.2,1.5,1.8,2.1],[2.4,2.3,1.9,1.5,1.2,1.0],[0.9,0.85,0.75,0.7,0.65,0.7],[0.65,0.6,0.7,0.55,0.65,0.6],[0.6,0.55,0.65,0.5,0.6,0.55],[0.55,0.6,0.5,0.6,0.55,0.5],[0.55,0.6,0.5,0.55,0.6,0.5,0.55]];

const histSeries = [hist01, hist02, hist03, hist04, hist05, hist06, hist07, hist08, hist09, hist10, hist11, hist12, hist13, hist14, hist15, hist16, hist17, hist18, hist19, hist20, hist21, hist22, hist23, hist24, hist25, hist26, hist27, hist28, hist29, hist30, hist31, hist32, hist33, hist34, hist35, hist36, hist37, hist38, hist39, hist40, hist41, hist42, hist43, hist44];
const histColors = ['#6CB6CE', '#F79646', '#F9AB6B', '#4F81BD', '#31859C', '#C46A6A', '#943634', '#8064A2', '#385D8A', '#C0702A', '#77933C', '#9BBB59', '#C3D69B', '#B5CC8E', '#F4B183', '#5DB3CC', '#B9692B', '#A65A23', '#E8883A', '#EF8F3F', '#B5651D', '#31849B', '#A6C46A', '#7F62A8', '#3E6FA8', '#CD7371', '#E08A3C', '#9983B5', '#4BACC6', '#C0504D', '#AFC97A', '#D99694', '#5F497A', '#276A7C', '#729ACA', '#B2A1C7', '#558ED5', '#1F497D', '#604A7B', '#E3893A', '#8DB3E2', '#E6B9B8', '#7E9D40', '#CCC1DA'];

function monthlyToPoints(months: number[][], off: number) {
  const pts: { x: number; y: number }[] = [];
  months.forEach((vals, m) => {
    const s = monthStartDays[m];
    const len = monthStartDays[m + 1] - s;
    const last = m === months.length - 1;
    const n = vals.length;
    vals.forEach((v, j) => {
      let x = last ? s + (j * len) / (n - 1) : s + (j * len) / n;
      if (!(m === 0 && j === 0) && !(last && j === n - 1)) x += off;
      pts.push({ x, y: v });
    });
  });
  return pts;
}

function arrowHead(ctx: CanvasRenderingContext2D, tx: number, ty: number, dx: number, dy: number, len: number, half: number) {
  const bx = tx - dx * len, by = ty - dy * len;
  ctx.beginPath();
  ctx.moveTo(tx, ty);
  ctx.lineTo(bx - dy * half, by + dx * half);
  ctx.lineTo(bx + dy * half, by - dx * half);
  ctx.closePath();
  ctx.fill();
}

const overlayPlugin = {
  id: 'overlay',
  afterDatasetsDraw(chart: any) {
    const { ctx, chartArea: a, scales } = chart;
    const xs = scales.x, ys = scales.y;
    ctx.save();
    ctx.strokeStyle = '#8c8c8c';
    ctx.lineWidth = 2;
    ctx.beginPath();
    ctx.moveTo(a.right, a.top);
    ctx.lineTo(a.right, a.bottom);
    ctx.stroke();

    const fy = ys.getPixelForValue(floodLevel);
    ctx.strokeStyle = '#FF0000';
    ctx.lineWidth = 5;
    ctx.lineCap = 'round';
    ctx.setLineDash([11, 9.5]);
    ctx.beginPath();
    ctx.moveTo(a.left + 4, fy);
    ctx.lineTo(a.right - 2, fy);
    ctx.stroke();
    ctx.setLineDash([]);
    ctx.lineCap = 'butt';

    const x1 = xs.getPixelForValue(startMarkerDay);
    const x2 = xs.getPixelForValue(endMarkerDay);
    const ym = ys.getPixelForValue(markerLevel);
    const y0 = ys.getPixelForValue(0);
    ctx.strokeStyle = '#FF0000';
    ctx.fillStyle = '#FF0000';
    ctx.lineWidth = 4;
    ctx.beginPath();
    ctx.moveTo(x1, y0);
    ctx.lineTo(x1, ym);
    ctx.moveTo(x1, ym);
    ctx.lineTo(x2 - 10, ym);
    ctx.moveTo(x2, ym);
    ctx.lineTo(x2, y0 - 10);
    ctx.stroke();
    arrowHead(ctx, x1, ym + 2, 0, -1, 14, 6);
    arrowHead(ctx, x2 - 4, ym, 1, 0, 16, 6);
    arrowHead(ctx, x2, y0, 0, 1, 16, 7);

    ctx.textAlign = 'center';
    ctx.textBaseline = 'middle';
    ctx.fillStyle = '#000';
    ctx.font = `bold 24px ${FONT}`;
    ctx.fillText(titleText, xs.getPixelForValue(titlePos[0]), ys.getPixelForValue(titlePos[1]));

    ctx.fillStyle = '#FF0000';
    ctx.font = `23px ${FONT}`;
    ctx.fillText(floodText, xs.getPixelForValue(floodTextPos[0]), ys.getPixelForValue(floodTextPos[1]));

    const drawBox = (b: number[], label: string) => {
      const bx1 = xs.getPixelForValue(b[0]), bx2 = xs.getPixelForValue(b[1]);
      const by1 = ys.getPixelForValue(b[2]), by2 = ys.getPixelForValue(b[3]);
      ctx.fillStyle = '#fff';
      ctx.fillRect(bx1, by1, bx2 - bx1, by2 - by1);
      ctx.strokeStyle = '#000';
      ctx.lineWidth = 2;
      ctx.strokeRect(bx1, by1, bx2 - bx1, by2 - by1);
      ctx.fillStyle = '#FF0000';
      ctx.font = `26px ${FONT}`;
      ctx.fillText(label, (bx1 + bx2) / 2, (by1 + by2) / 2 + 1);
    };
    drawBox(startBox, startLabel);
    drawBox(endBox, endLabel);
    ctx.restore();
  },
  afterDraw(chart: any) {
    const { ctx, chartArea: a, scales } = chart;
    const xs = scales.x;
    ctx.save();
    ctx.save();
    ctx.translate(33, (a.top + a.bottom) / 2 - 20);
    ctx.rotate(-Math.PI / 2);
    ctx.fillStyle = '#000';
    ctx.font = `bold 22px ${FONT}`;
    ctx.textAlign = 'center';
    ctx.textBaseline = 'middle';
    ctx.fillText(yTitle, 0, 0);
    ctx.restore();

    ctx.strokeStyle = '#9a9a9a';
    ctx.lineWidth = 1;
    ctx.beginPath();
    for (let d = 0; d <= 365; d++) {
      const px = Math.round(xs.getPixelForValue(d)) + 0.5;
      ctx.moveTo(px, a.bottom + 1);
      ctx.lineTo(px, a.bottom + 5);
    }
    ctx.stroke();

    const tTop = a.bottom + 6;
    const tBot = a.bottom + 69;
    ctx.strokeStyle = '#000';
    ctx.lineWidth = 1.5;
    ctx.beginPath();
    for (let m = 1; m < monthStartDays.length - 1; m++) {
      const px = Math.round(xs.getPixelForValue(monthStartDays[m]));
      ctx.moveTo(px, tTop);
      ctx.lineTo(px, tBot);
    }
    ctx.stroke();
    ctx.lineWidth = 2.5;
    ctx.strokeRect(a.left, tTop, a.right - a.left, tBot - tTop);

    ctx.fillStyle = '#1a1a1a';
    ctx.font = `24px ${FONT}`;
    ctx.textAlign = 'center';
    ctx.textBaseline = 'middle';
    monthLabels.forEach((lab, m) => {
      const cx = (xs.getPixelForValue(monthStartDays[m]) + xs.getPixelForValue(monthStartDays[m + 1])) / 2;
      ctx.fillText(lab, cx, (tTop + tBot) / 2 + 1);
    });
    ctx.restore();
  },
};

export default function App() {
  const ref = useRef<HTMLCanvasElement | null>(null);
  useEffect(() => {
    if (!ref.current) return;
    const common = { pointRadius: 0, pointHoverRadius: 0, fill: false, tension: 0, spanGaps: false, borderJoinStyle: 'round' as const };
    const datasets: any[] = [
      { label: '2557', data: blackDays.map((x, i) => ({ x, y: blackVals[i] })), borderColor: '#000000', borderWidth: 4.5, ...common },
      { label: '2556', data: red2556.map(([x, y]) => ({ x, y })), borderColor: '#FF0000', borderWidth: 5, ...common },
      ...histSeries.map((s, k) => ({
        label: String(2512 + k),
        data: monthlyToPoints(s, k % 3),
        borderColor: histColors[k % histColors.length],
        borderWidth: 3.8,
        ...common,
      })),
    ];
    const chart = new Chart(ref.current, {
      type: 'line',
      data: { datasets },
      options: {
        responsive: false,
        animation: false,
        devicePixelRatio: 1,
        events: [],
        layout: { padding: { left: 0, right: 6, top: 14, bottom: 71 } },
        plugins: { legend: { display: false }, tooltip: { enabled: false }, title: { display: false } },
        scales: {
          x: { type: 'linear', min: monthStartDays[0], max: monthStartDays[monthStartDays.length - 1], display: false },
          y: {
            min: yTicks[0],
            max: yTicks[yTicks.length - 1],
            afterFit: (s: any) => { s.width = 130; s.paddingTop = 0; s.paddingBottom = 0; },
            ticks: { stepSize: 1, color: '#000', padding: 12, font: { size: 20, family: FONT } },
            grid: { color: '#8c8c8c', lineWidth: 2, tickLength: 8 },
            border: { color: '#8c8c8c', width: 2 },
          },
        },
      },
      plugins: [overlayPlugin],
    } as any);
    return () => chart.destroy();
  }, []);
  return (
    <div style={{ position: 'absolute', left: 0, top: 0, width: 1864, height: 977, background: '#fff' }}>
      <canvas ref={ref} width={1864} height={977} style={{ display: 'block' }} />
    </div>
  );
}
